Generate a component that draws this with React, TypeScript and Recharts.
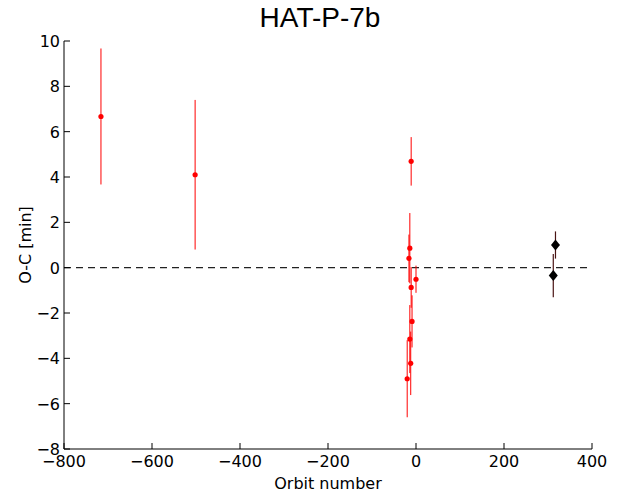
import { ScatterChart, Scatter, XAxis, YAxis, ErrorBar, ReferenceLine } from 'recharts';

const redOrbit = [-716, -502, -11, -14, -16, -11, 0, -9, -14, -12, -20];
const redOc = [6.67, 4.1, 4.69, 0.86, 0.41, -0.87, -0.51, -2.37, -3.15, -4.22, -4.9];
const redErr = [3.0, 3.3, 1.07, 1.55, 1.05, 0.9, 0.6, 1.15, 1.5, 1.4, 1.7];

const newOrbit = [312, 317];
const newOc = [-0.35, 1.0];
const newErr = [0.95, 0.6];

const xTicks = [-800, -600, -400, -200, 0, 200, 400];
const yTicks = [-8, -6, -4, -2, 0, 2, 4, 6, 8, 10];

const redData = redOrbit.map((x, i) => ({ x, y: redOc[i], err: redErr[i] }));
const newData = newOrbit.map((x, i) => ({ x, y: newOc[i], err: newErr[i] }));

const W = 630;
const H = 494;
const PL = 64;
const PR = 592;
const PT = 41;
const PB = 449;
const FONT = 'DejaVu Sans, sans-serif';

const fmt = (v: number) => (v < 0 ? `\u2212${Math.abs(v)}` : `${v}`);

function BottomTick({ x, payload }: any) {
  return (
    <g>
      <line x1={x} x2={x} y1={PB} y2={PB - 6} stroke="#000" />
      <text x={x} y={PB + 18} textAnchor="middle" fontSize={16} fontFamily={FONT} fill="#000">
        {fmt(payload.value)}
      </text>
    </g>
  );
}

function TopTick({ x }: any) {
  return <line x1={x} x2={x} y1={PT} y2={PT + 6} stroke="#000" />;
}

function LeftTick({ y, payload }: any) {
  return (
    <g>
      <line x1={PL} x2={PL + 6} y1={y} y2={y} stroke="#000" />
      <text x={PL - 4} y={y + 6} textAnchor="end" fontSize={16} fontFamily={FONT} fill="#000">
        {fmt(payload.value)}
      </text>
    </g>
  );
}

function RightTick({ y }: any) {
  return <line x1={PR} x2={PR - 6} y1={y} y2={y} stroke="#000" />;
}

function Dot({ cx, cy }: any) {
  return <circle cx={cx} cy={cy} r={2.6} fill="#ff0000" />;
}

function Diamond({ cx, cy }: any) {
  return <polygon points={`${cx},${cy - 5.5} ${cx + 4.5},${cy} ${cx},${cy + 5.5} ${cx - 4.5},${cy}`} fill="#000" />;
}

export default function App() {
  return (
    <div style={{ position: 'absolute', left: 0, top: 0, width: W, height: H, background: '#fff' }}>
      <ScatterChart width={W} height={H} margin={{ top: PT, right: W - PR, bottom: 0, left: 0 }}>
        <XAxis
          xAxisId="b"
          type="number"
          dataKey="x"
          domain={[-800, 400]}
          ticks={xTicks}
          interval={0}
          height={H - PB}
          tickLine={false}
          tick={<BottomTick />}
          axisLine={{ stroke: '#000' }}
          allowDataOverflow
        />
        <XAxis
          xAxisId="t"
          orientation="top"
          type="number"
          domain={[-800, 400]}
          ticks={xTicks}
          interval={0}
          height={0}
          tickLine={false}
          tick={<TopTick />}
          axisLine={{ stroke: '#000' }}
          allowDataOverflow
        />
        <YAxis
          yAxisId="l"
          type="number"
          dataKey="y"
          domain={[-8, 10]}
          ticks={yTicks}
          interval={0}
          width={PL}
          tickLine={false}
          tick={<LeftTick />}
          axisLine={{ stroke: '#000' }}
          allowDataOverflow
        />
        <YAxis
          yAxisId="r"
          orientation="right"
          type="number"
          domain={[-8, 10]}
          ticks={yTicks}
          interval={0}
          width={0}
          tickLine={false}
          tick={<RightTick />}
          axisLine={{ stroke: '#000' }}
          allowDataOverflow
        />
        <ReferenceLine xAxisId="b" yAxisId="l" y={0} stroke="#222" strokeWidth={1.4} strokeDasharray="7 5" />
        <Scatter xAxisId="b" yAxisId="l" data={redData} shape={<Dot />} isAnimationActive={false}>
          <ErrorBar dataKey="err" direction="y" width={0} stroke="#ff0000" strokeWidth={1} />
        </Scatter>
        <Scatter xAxisId="b" yAxisId="l" data={newData} shape={<Diamond />} isAnimationActive={false}>
          <ErrorBar dataKey="err" direction="y" width={0} stroke="#4a1414" strokeWidth={1.2} />
        </Scatter>
        <text
          x={(PL + PR) / 2 - 8}
          y={27}
          textAnchor="middle"
          fontSize={28}
          fontFamily="Liberation Sans, Arial, sans-serif"
          fill="#000"
        >
          HAT-P-7b
        </text>
        <text x={(PL + PR) / 2} y={489} textAnchor="middle" fontSize={16} fontFamily={FONT} fill="#000">
          Orbit number
        </text>
        <text
          x={31}
          y={(PT + PB) / 2}
          textAnchor="middle"
          fontSize={16}
          fontFamily={FONT}
          fill="#000"
          transform={`rotate(-90, 31, ${(PT + PB) / 2})`}
        >
          O-C [min]
        </text>
      </ScatterChart>
    </div>
  );
}
